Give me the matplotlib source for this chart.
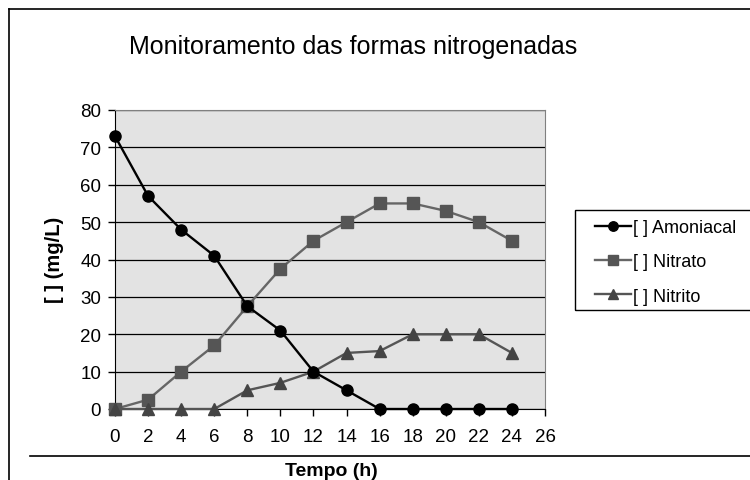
import matplotlib.pyplot as plt
from matplotlib.lines import Line2D
from matplotlib.patches import Rectangle

plt.rcParams['font.family'] = ['Liberation Sans', 'DejaVu Sans']

tempo = [0, 2, 4, 6, 8, 10, 12, 14, 16, 18, 20, 22, 24]
amoniacal = [73, 57, 48, 41, 27.5, 21, 10, 5, 0, 0, 0, 0, 0]
nitrato = [0, 2.5, 10, 17, 27.5, 37.5, 45, 50, 55, 55, 53, 50, 45]
nitrito = [0, 0, 0, 0, 5, 7, 10, 15, 15.5, 20, 20, 20, 15]

W, H = 750, 481
fig = plt.figure(figsize=(7.5, 4.81), dpi=100)

# outer chart frame (cropped)
fig.add_artist(Line2D([9 / W, 9 / W], [0, 1 - 10 / H], color='black', lw=1.2))
fig.add_artist(Line2D([9 / W, 1], [1 - 10 / H, 1 - 10 / H], color='black', lw=1.2))
fig.add_artist(Line2D([30 / W, 1], [1 - 457 / H, 1 - 457 / H], color='black', lw=1.2))

ax = fig.add_axes([115 / W, 1 - 410 / H, 430 / W, 299 / H])
ax.set_facecolor('#e3e3e3')
ax.set_xlim(0, 26)
ax.set_ylim(0, 80)
ax.set_xticks(range(0, 27, 2))
ax.set_yticks(range(0, 81, 10))
ax.yaxis.grid(True, color='black', lw=0.9)
ax.set_axisbelow(True)
for s in ax.spines.values():
    s.set_color('#808080')
ax.spines['left'].set_color('black')
ax.spines['bottom'].set_color('black')
ax.tick_params(axis='both', direction='out', length=5, width=1, labelsize=13.5, pad=5, color='black')
ax.tick_params(axis='x', pad=9)

ax.plot(tempo, amoniacal, color='black', lw=1.7, marker='o', ms=8, clip_on=False, zorder=5,
        label='[ ] Amoniacal')
ax.plot(tempo, nitrato, color='#666666', lw=1.7, marker='s', ms=8, mfc='#555555', mec='#555555',
        clip_on=False, zorder=4, label='[ ] Nitrato')
ax.plot(tempo, nitrito, color='#555555', lw=1.7, marker='^', ms=8, mfc='#444444', mec='#444444',
        clip_on=False, zorder=4, label='[ ] Nitrito')

fig.text(353 / W, 1 - 47 / H, 'Monitoramento das formas nitrogenadas', fontsize=18,
         ha='center', va='center')
fig.text(55 / W, 1 - 260 / H, '[ ] (mg/L)', fontsize=14.5, fontweight='bold',
         rotation=90, ha='center', va='center')
fig.text(331 / W, 1 - 472 / H, 'Tempo (h)', fontsize=14, fontweight='bold',
         ha='center', va='center')

# legend box, extends past the right edge
fig.add_artist(Rectangle((575 / W, 1 - 311 / H), 200 / W, 100 / H, transform=fig.transFigure,
                         fill=False, ec='black', lw=1, clip_on=False))
leg = fig.legend(loc='upper left', bbox_to_anchor=(588 / W, 1 - 213 / H), frameon=False,
                 fontsize=13, handlelength=2.0, handletextpad=0.1, labelspacing=0.95,
                 borderaxespad=0, markerscale=0.85)

fig.savefig('out.png', dpi=100)
